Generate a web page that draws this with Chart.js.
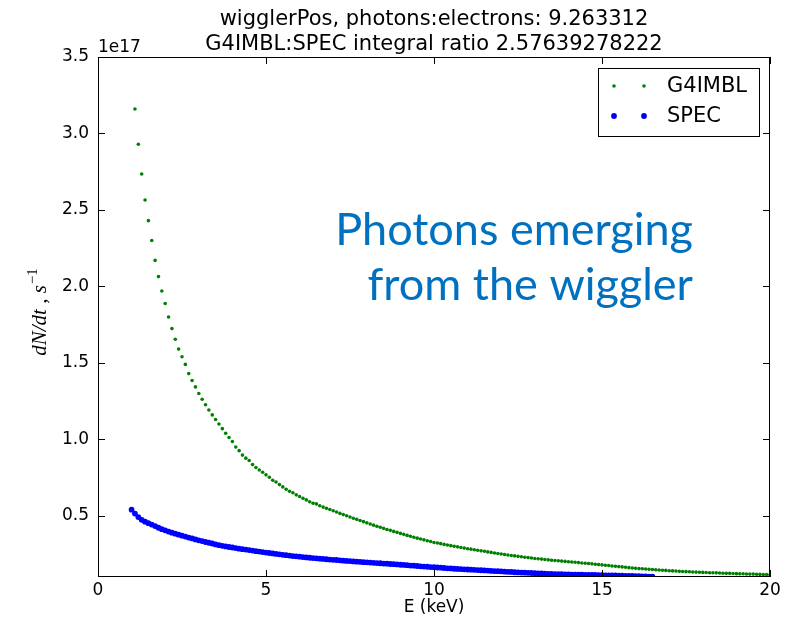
<!DOCTYPE html>
<html>
<head>
<meta charset="utf-8">
<script src="https://cdn.jsdelivr.net/npm/chart.js@4.4.1/dist/chart.umd.min.js"></script>
<style>
  html, body { margin: 0; padding: 0; background: #fff; }
  canvas { display: block; }
</style>
</head>
<body>
<canvas id="chart" width="800" height="621"></canvas>
<script>
// photon energy bins, keV
const energy = [
  1.0, 1.1, 1.2, 1.3, 1.4, 1.5, 1.6, 1.7, 1.8, 1.9,
  2.0, 2.1, 2.2, 2.3, 2.4, 2.5, 2.6, 2.7, 2.8, 2.9,
  3.0, 3.1, 3.2, 3.3, 3.4, 3.5, 3.6, 3.7, 3.8, 3.9,
  4.0, 4.1, 4.2, 4.3, 4.4, 4.5, 4.6, 4.7, 4.8, 4.9,
  5.0, 5.1, 5.2, 5.3, 5.4, 5.5, 5.6, 5.7, 5.8, 5.9,
  6.0, 6.1, 6.2, 6.3, 6.4, 6.5, 6.6, 6.7, 6.8, 6.9,
  7.0, 7.1, 7.2, 7.3, 7.4, 7.5, 7.6, 7.7, 7.8, 7.9,
  8.0, 8.1, 8.2, 8.3, 8.4, 8.5, 8.6, 8.7, 8.8, 8.9,
  9.0, 9.1, 9.2, 9.3, 9.4, 9.5, 9.6, 9.7, 9.8, 9.9,
  10.0, 10.1, 10.2, 10.3, 10.4, 10.5, 10.6, 10.7, 10.8, 10.9,
  11.0, 11.1, 11.2, 11.3, 11.4, 11.5, 11.6, 11.7, 11.8, 11.9,
  12.0, 12.1, 12.2, 12.3, 12.4, 12.5, 12.6, 12.7, 12.8, 12.9,
  13.0, 13.1, 13.2, 13.3, 13.4, 13.5, 13.6, 13.7, 13.8, 13.9,
  14.0, 14.1, 14.2, 14.3, 14.4, 14.5, 14.6, 14.7, 14.8, 14.9,
  15.0, 15.1, 15.2, 15.3, 15.4, 15.5, 15.6, 15.7, 15.8, 15.9,
  16.0, 16.1, 16.2, 16.3, 16.4, 16.5, 16.6, 16.7, 16.8, 16.9,
  17.0, 17.1, 17.2, 17.3, 17.4, 17.5, 17.6, 17.7, 17.8, 17.9,
  18.0, 18.1, 18.2, 18.3, 18.4, 18.5, 18.6, 18.7, 18.8, 18.9,
  19.0, 19.1, 19.2, 19.3, 19.4, 19.5, 19.6, 19.7, 19.8, 19.9,
  20.0
];

// dN/dt in units of 1e17 per second, same bins as energy
const g4imbl = [
  null, 3.16, 2.93, 2.735, 2.565, 2.43, 2.30, 2.17, 2.064, 1.97,
  1.888, 1.80, 1.724, 1.655, 1.59, 1.54, 1.49, 1.43, 1.385, 1.343,
  1.30, 1.262, 1.226, 1.192, 1.16, 1.13, 1.10, 1.07, 1.04, 1.012,
  0.986, 0.950, 0.926, 0.897, 0.877, 0.862, 0.835, 0.816, 0.800, 0.785,
  0.768, 0.752, 0.733, 0.721, 0.704, 0.689, 0.674, 0.661, 0.651, 0.637,
  0.626, 0.615, 0.604, 0.592, 0.582, 0.578, 0.566, 0.557, 0.549, 0.541,
  0.533, 0.525, 0.516, 0.508, 0.500, 0.492, 0.484, 0.477, 0.469, 0.462,
  0.454, 0.447, 0.439, 0.432, 0.425, 0.418, 0.411, 0.405, 0.398, 0.392,
  0.385, 0.379, 0.372, 0.366, 0.360, 0.354, 0.348, 0.343, 0.337, 0.332,
  0.326, 0.322, 0.318, 0.313, 0.309, 0.305, 0.301, 0.297, 0.293, 0.289,
  0.285, 0.282, 0.278, 0.275, 0.271, 0.268, 0.264, 0.261, 0.257, 0.254,
  0.250, 0.247, 0.244, 0.241, 0.238, 0.235, 0.232, 0.229, 0.227, 0.224,
  0.221, 0.219, 0.217, 0.214, 0.212, 0.210, 0.208, 0.206, 0.204, 0.202,
  0.200, 0.198, 0.196, 0.194, 0.192, 0.190, 0.188, 0.186, 0.183, 0.181,
  0.179, 0.177, 0.175, 0.172, 0.170, 0.168, 0.166, 0.164, 0.161, 0.159,
  0.157, 0.155, 0.154, 0.152, 0.151, 0.149, 0.147, 0.146, 0.144, 0.143,
  0.141, 0.140, 0.139, 0.137, 0.136, 0.135, 0.134, 0.133, 0.132, 0.131,
  0.130, 0.129, 0.128, 0.128, 0.127, 0.126, 0.125, 0.124, 0.124, 0.123,
  0.122, 0.121, 0.121, 0.120, 0.119, 0.119, 0.118, 0.117, 0.116, 0.116,
  0.115
];

const spec = [
  0.540, 0.515, 0.492, 0.474, 0.462, 0.452, 0.443, 0.433, 0.422, 0.413,
  0.405, 0.397, 0.390, 0.383, 0.377, 0.370, 0.364, 0.358, 0.352, 0.346,
  0.340, 0.335, 0.329, 0.324, 0.319, 0.313, 0.308, 0.304, 0.300, 0.296,
  0.293, 0.289, 0.285, 0.282, 0.279, 0.276, 0.273, 0.269, 0.266, 0.263,
  0.260, 0.257, 0.254, 0.251, 0.248, 0.245, 0.243, 0.240, 0.237, 0.235,
  0.233, 0.230, 0.228, 0.226, 0.224, 0.222, 0.220, 0.218, 0.216, 0.214,
  0.212, 0.211, 0.209, 0.207, 0.205, 0.204, 0.202, 0.200, 0.199, 0.197,
  0.196, 0.194, 0.193, 0.191, 0.190, 0.188, 0.187, 0.185, 0.184, 0.182,
  0.180, 0.179, 0.177, 0.175, 0.174, 0.172, 0.170, 0.168, 0.167, 0.165,
  0.164, 0.162, 0.161, 0.159, 0.157, 0.156, 0.154, 0.153, 0.152, 0.150,
  0.149, 0.148, 0.147, 0.145, 0.144, 0.143, 0.142, 0.140, 0.139, 0.138,
  0.137, 0.135, 0.134, 0.133, 0.131, 0.130, 0.129, 0.128, 0.127, 0.126,
  0.125, 0.124, 0.123, 0.122, 0.121, 0.120, 0.119, 0.119, 0.118, 0.117,
  0.117, 0.116, 0.116, 0.115, 0.115, 0.114, 0.114, 0.113, 0.113, 0.112,
  0.112, 0.111, 0.111, 0.110, 0.110, 0.109, 0.109, 0.108, 0.107, 0.107,
  0.106, 0.105, 0.104, 0.104, 0.103, 0.102
];

const xTicks = [0, 5, 10, 15, 20];
const yTicks = [0.5, 1.0, 1.5, 2.0, 2.5, 3.0, 3.5];

const titleLines = [
  "wigglerPos, photons:electrons: 9.263312",
  "G4IMBL:SPEC integral ratio 2.57639278222"
];
const noteLines = ["Photons emerging", "from the wiggler"];

function toPoints(values) {
  const pts = [];
  values.forEach((v, i) => {
    if (v !== null) pts.push({ x: energy[i], y: v });
  });
  return pts;
}

const SANS = '"DejaVu Sans", sans-serif';

// frame, inward ticks, titles, legend and the note
const decor = {
  id: "decor",
  afterDatasetsDraw(chart) {
    const { ctx, chartArea: a, scales } = chart;
    const x = scales.x, y = scales.y;
    ctx.save();

    ctx.strokeStyle = "#000";
    ctx.lineWidth = 1;
    ctx.strokeRect(a.left + 0.5, a.top + 0.5, a.right - a.left - 1, a.bottom - a.top - 1);

    const tl = 7;
    ctx.beginPath();
    xTicks.forEach(v => {
      const px = Math.round(x.getPixelForValue(v)) + 0.5;
      ctx.moveTo(px, a.bottom); ctx.lineTo(px, a.bottom - tl);
      ctx.moveTo(px, a.top); ctx.lineTo(px, a.top + tl);
    });
    yTicks.forEach(v => {
      const py = Math.round(y.getPixelForValue(v)) + 0.5;
      ctx.moveTo(a.left, py); ctx.lineTo(a.left + tl, py);
      ctx.moveTo(a.right, py); ctx.lineTo(a.right - tl, py);
    });
    ctx.stroke();

    // title
    const cx = (a.left + a.right) / 2;
    ctx.fillStyle = "#000";
    ctx.font = "21px " + SANS;
    ctx.textAlign = "center";
    ctx.textBaseline = "alphabetic";
    ctx.fillText(titleLines[0], cx, 25);
    ctx.fillText(titleLines[1], cx, 50);

    // offset text of the y axis
    ctx.font = "17px " + SANS;
    ctx.textAlign = "left";
    ctx.fillText("1e17", a.left, 52);

    // y axis label, dN/dt , s^-1
    ctx.save();
    ctx.translate(46, 312);
    ctx.rotate(-Math.PI / 2);
    const mainFont = 'italic 21px "Liberation Serif", serif';
    const supFont = '15px "Liberation Serif", serif';
    const main = "dN/dt , s";
    const sup = "\u22121";
    ctx.font = mainFont;
    const w1 = ctx.measureText(main).width;
    ctx.font = supFont;
    const w2 = ctx.measureText(sup).width;
    const x0 = -(w1 + w2 + 1) / 2;
    ctx.font = mainFont;
    ctx.fillText(main, x0, 0);
    ctx.font = supFont;
    ctx.fillText(sup, x0 + w1 + 1, -9);
    ctx.restore();

    // legend box
    ctx.fillStyle = "#fff";
    ctx.fillRect(598.5, 68.5, 161, 68);
    ctx.strokeStyle = "#000";
    ctx.strokeRect(598.5, 68.5, 161, 68);
    const rows = [86, 116];
    chart.data.datasets.forEach((ds, i) => {
      ctx.fillStyle = ds.pointBackgroundColor;
      [614, 644].forEach(px => {
        ctx.beginPath();
        ctx.arc(px, rows[i], ds.pointRadius, 0, Math.PI * 2);
        ctx.fill();
      });
      ctx.fillStyle = "#000";
      ctx.font = "21px " + SANS;
      ctx.textAlign = "left";
      ctx.textBaseline = "middle";
      ctx.fillText(ds.label, 667, rows[i] + 1);
    });

    // note
    ctx.fillStyle = "#0070c0";
    ctx.font = '45px Lato, "Open Sans", sans-serif';
    ctx.textAlign = "right";
    ctx.textBaseline = "alphabetic";
    ctx.fillText(noteLines[0], 693, 245);
    ctx.fillText(noteLines[1], 693, 300);

    ctx.restore();
  }
};

new Chart(document.getElementById("chart"), {
  type: "scatter",
  data: {
    datasets: [
      {
        label: "G4IMBL",
        data: toPoints(g4imbl),
        pointRadius: 1.8,
        pointBackgroundColor: "#008000",
        pointBorderWidth: 0,
        showLine: false,
        clip: 0
      },
      {
        label: "SPEC",
        data: toPoints(spec),
        pointRadius: 2.9,
        pointBackgroundColor: "#0000ff",
        pointBorderWidth: 0,
        showLine: false,
        clip: 0
      }
    ]
  },
  options: {
    responsive: false,
    animation: false,
    devicePixelRatio: 1,
    layout: { padding: { left: 0, right: 30, top: 57, bottom: 0 } },
    plugins: {
      legend: { display: false },
      tooltip: { enabled: false }
    },
    scales: {
      x: {
        type: "linear",
        min: 0,
        max: 20,
        afterBuildTicks: s => { s.ticks = xTicks.map(v => ({ value: v })); },
        afterFit: s => { s.height = 44; },
        grid: { display: false, drawTicks: false },
        border: { display: false },
        ticks: { color: "#000", font: { family: SANS, size: 17 }, padding: 3, maxRotation: 0 },
        title: {
          display: true,
          text: "E (keV)",
          color: "#000",
          font: { family: SANS, size: 17 },
          padding: { top: 0, bottom: 3 }
        }
      },
      y: {
        type: "linear",
        min: 0.1,
        max: 3.5,
        afterBuildTicks: s => { s.ticks = yTicks.map(v => ({ value: v })); },
        afterFit: s => { s.width = 98; },
        grid: { display: false, drawTicks: false },
        border: { display: false },
        ticks: {
          color: "#000",
          font: { family: SANS, size: 17 },
          padding: 9,
          callback: v => v.toFixed(1)
        }
      }
    }
  },
  plugins: [decor]
});
</script>
</body>
</html>
